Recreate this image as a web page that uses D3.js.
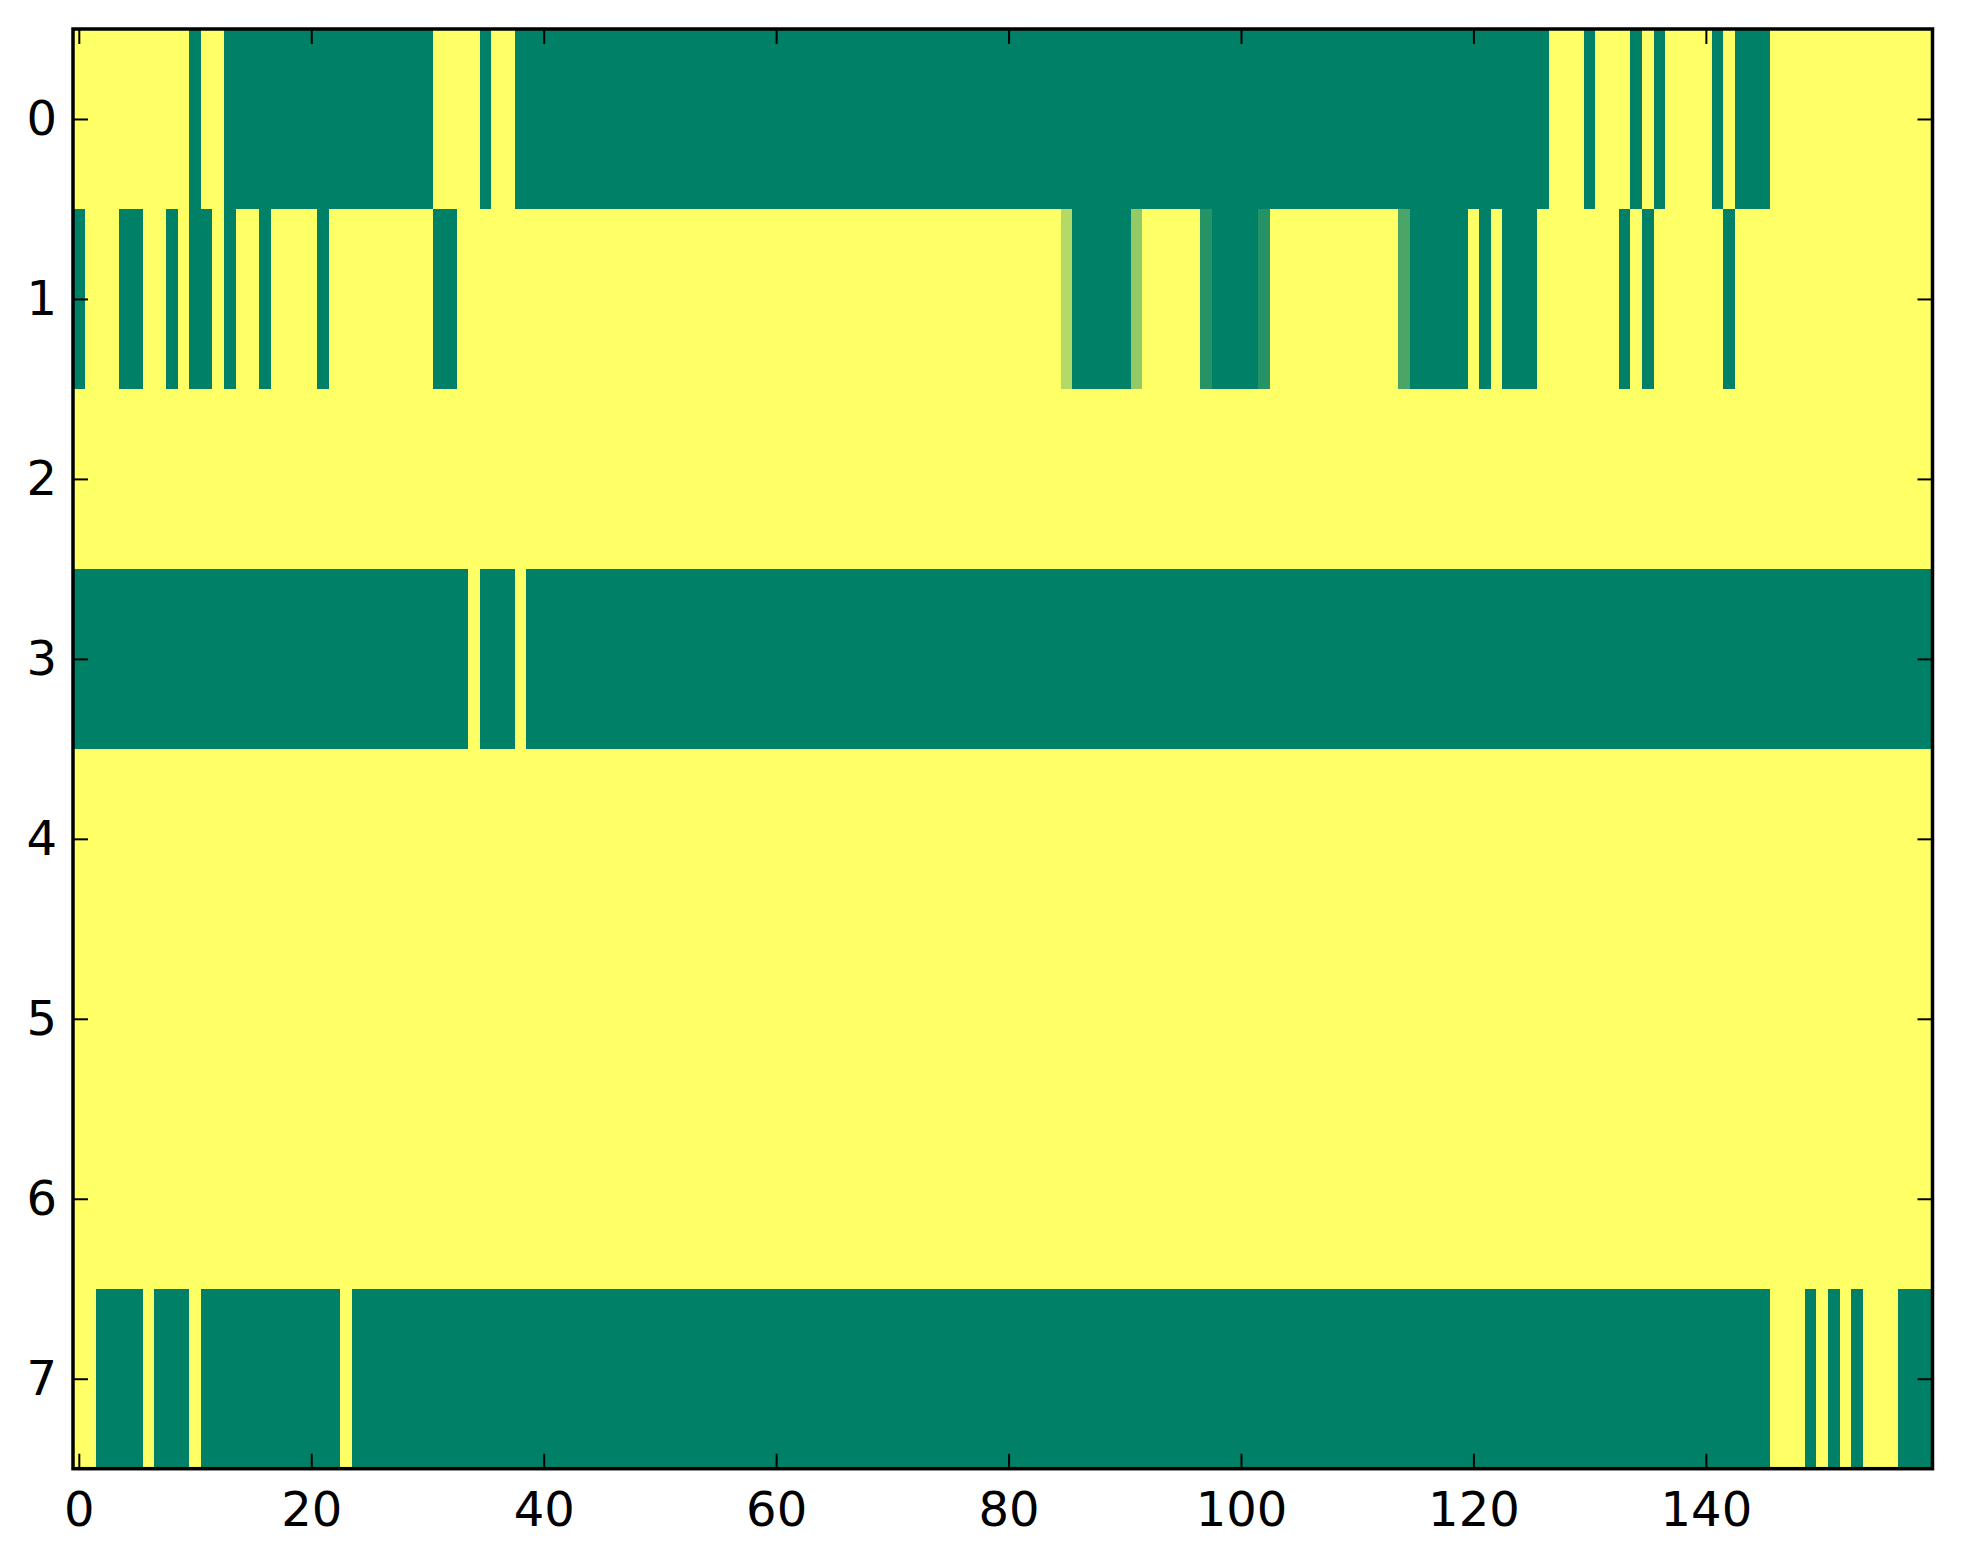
<!DOCTYPE html>
<html>
<head>
<meta charset="utf-8">
<script src="https://cdn.jsdelivr.net/npm/d3@7.9.0/dist/d3.min.js"></script>
<style>
  html, body { margin: 0; padding: 0; background: #fff; }
  svg { display: block; }
  .tick text { font-family: "DejaVu Sans", sans-serif; font-size: 48px; fill: #000; }
</style>
</head>
<body>
<svg id="chart" width="1963" height="1564"></svg>
<script>
// one array per image row, 160 columns each (1 = yellow, 0 = green)
const row0 = [
  1,1,1,1,1,1,1,1,1,1, 0,1,1,0,0,0,0,0,0,0,
  0,0,0,0,0,0,0,0,0,0, 0,1,1,1,1,0,1,1,0,0,
  0,0,0,0,0,0,0,0,0,0, 0,0,0,0,0,0,0,0,0,0,
  0,0,0,0,0,0,0,0,0,0, 0,0,0,0,0,0,0,0,0,0,
  0,0,0,0,0,0,0,0,0,0, 0,0,0,0,0,0,0,0,0,0,
  0,0,0,0,0,0,0,0,0,0, 0,0,0,0,0,0,0,0,0,0,
  0,0,0,0,0,0,0,1,1,1, 0,1,1,1,0,1,0,1,1,1,
  1,0,1,0,0,0,1,1,1,1, 1,1,1,1,1,1,1,1,1,1
];
const row1 = [
  0,1,1,1,0,0,1,1,0,1, 0,0,1,0,1,1,0,1,1,1,
  1,0,1,1,1,1,1,1,1,1, 1,0,0,1,1,1,1,1,1,1,
  1,1,1,1,1,1,1,1,1,1, 1,1,1,1,1,1,1,1,1,1,
  1,1,1,1,1,1,1,1,1,1, 1,1,1,1,1,1,1,1,1,1,
  1,1,1,1,1,0.7,0,0,0,0, 0,0.58,1,1,1,1,1,0.15,0,0,
  0,0,0.15,1,1,1,1,1,1,1, 1,1,1,1,0.29,0,0,0,0,0,
  1,0,1,0,0,0,1,1,1,1, 1,1,1,0,1,0,1,1,1,1,
  1,1,0,1,1,1,1,1,1,1, 1,1,1,1,1,1,1,1,1,1
];
const row2 = [
  1,1,1,1,1,1,1,1,1,1, 1,1,1,1,1,1,1,1,1,1,
  1,1,1,1,1,1,1,1,1,1, 1,1,1,1,1,1,1,1,1,1,
  1,1,1,1,1,1,1,1,1,1, 1,1,1,1,1,1,1,1,1,1,
  1,1,1,1,1,1,1,1,1,1, 1,1,1,1,1,1,1,1,1,1,
  1,1,1,1,1,1,1,1,1,1, 1,1,1,1,1,1,1,1,1,1,
  1,1,1,1,1,1,1,1,1,1, 1,1,1,1,1,1,1,1,1,1,
  1,1,1,1,1,1,1,1,1,1, 1,1,1,1,1,1,1,1,1,1,
  1,1,1,1,1,1,1,1,1,1, 1,1,1,1,1,1,1,1,1,1
];
const row3 = [
  0,0,0,0,0,0,0,0,0,0, 0,0,0,0,0,0,0,0,0,0,
  0,0,0,0,0,0,0,0,0,0, 0,0,0,0,1,0,0,0,1,0,
  0,0,0,0,0,0,0,0,0,0, 0,0,0,0,0,0,0,0,0,0,
  0,0,0,0,0,0,0,0,0,0, 0,0,0,0,0,0,0,0,0,0,
  0,0,0,0,0,0,0,0,0,0, 0,0,0,0,0,0,0,0,0,0,
  0,0,0,0,0,0,0,0,0,0, 0,0,0,0,0,0,0,0,0,0,
  0,0,0,0,0,0,0,0,0,0, 0,0,0,0,0,0,0,0,0,0,
  0,0,0,0,0,0,0,0,0,0, 0,0,0,0,0,0,0,0,0,0
];
const row4 = row2.slice();
const row5 = row2.slice();
const row6 = row2.slice();
const row7 = [
  1,1,0,0,0,0,1,0,0,0, 1,0,0,0,0,0,0,0,0,0,
  0,0,0,1,0,0,0,0,0,0, 0,0,0,0,0,0,0,0,0,0,
  0,0,0,0,0,0,0,0,0,0, 0,0,0,0,0,0,0,0,0,0,
  0,0,0,0,0,0,0,0,0,0, 0,0,0,0,0,0,0,0,0,0,
  0,0,0,0,0,0,0,0,0,0, 0,0,0,0,0,0,0,0,0,0,
  0,0,0,0,0,0,0,0,0,0, 0,0,0,0,0,0,0,0,0,0,
  0,0,0,0,0,0,0,0,0,0, 0,0,0,0,0,0,0,0,0,0,
  0,0,0,0,0,0,1,1,1,0, 1,0,1,0,1,1,1,0,0,0
];
const rows = [row0, row1, row2, row3, row4, row5, row6, row7];

const xTicks = [0, 20, 40, 60, 80, 100, 120, 140];
const yTicks = [0, 1, 2, 3, 4, 5, 6, 7];

const margin = { top: 29, right: 30.5, bottom: 95.3, left: 73 };
const width = 1963, height = 1564;
const innerW = width - margin.left - margin.right;
const innerH = height - margin.top - margin.bottom;

const svg = d3.select('#chart');
const g = svg.append('g').attr('transform', `translate(${margin.left},${margin.top})`);

// matplotlib "summer" runs linearly from (0,.5,.4) to (1,1,.4)
const color = d3.scaleLinear().domain([0, 1]).range(['#008066', '#ffff66']);

const nCols = row0.length;
const x = d3.scaleLinear().domain([-0.5, nCols - 0.5]).range([0, innerW]);
const y = d3.scaleLinear().domain([-0.5, rows.length - 0.5]).range([0, innerH]);

const cells = [];
rows.forEach((r, ri) => r.forEach((v, ci) => cells.push({ r: ri, c: ci, v })));

g.selectAll('rect.cell')
  .data(cells)
  .enter()
  .append('rect')
  .attr('class', 'cell')
  .attr('x', d => Math.round(x(d.c - 0.5)))
  .attr('y', d => Math.round(y(d.r - 0.5)))
  .attr('width', d => Math.round(x(d.c + 0.5)) - Math.round(x(d.c - 0.5)))
  .attr('height', d => Math.round(y(d.r + 0.5)) - Math.round(y(d.r - 0.5)))
  .attr('fill', d => color(d.v))
  .attr('shape-rendering', 'crispEdges');

// ticks point inward on all four sides
const tickLen = 15;
const bottomAxis = d3.axisBottom(x).tickValues(xTicks).tickSizeInner(-tickLen).tickSizeOuter(0).tickPadding(23);
const topAxis = d3.axisTop(x).tickValues(xTicks).tickSizeInner(-tickLen).tickSizeOuter(0).tickFormat('');
const leftAxis = d3.axisLeft(y).tickValues(yTicks).tickSizeInner(-tickLen).tickSizeOuter(0).tickPadding(16);
const rightAxis = d3.axisRight(y).tickValues(yTicks).tickSizeInner(-tickLen).tickSizeOuter(0).tickFormat('');

g.append('g').attr('transform', `translate(0,${innerH})`).call(bottomAxis);
g.append('g').call(topAxis);
g.append('g').call(leftAxis);
g.append('g').attr('transform', `translate(${innerW},0)`).call(rightAxis);

g.selectAll('.domain').remove();
g.selectAll('.tick line').attr('stroke', '#000').attr('stroke-width', 2);

g.append('rect')
  .attr('x', 0)
  .attr('y', 0)
  .attr('width', innerW)
  .attr('height', innerH)
  .attr('fill', 'none')
  .attr('stroke', '#000')
  .attr('stroke-width', 3.5);
</script>
</body>
</html>
